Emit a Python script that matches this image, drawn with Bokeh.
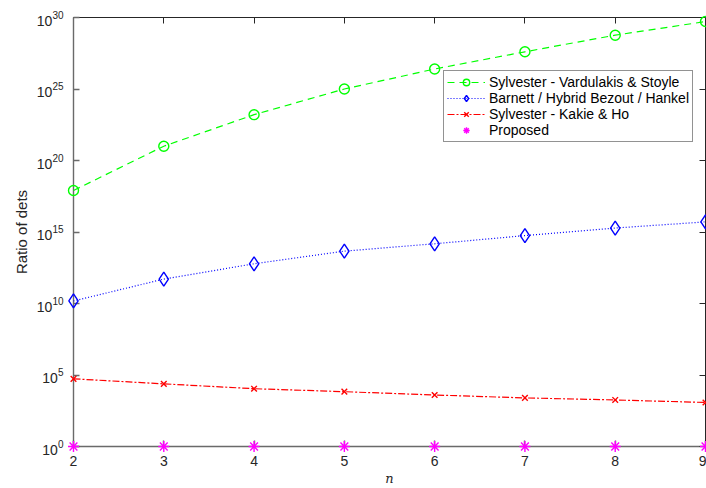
from bokeh.plotting import figure
from bokeh.models import (Range1d, FixedTicker, LogAxis, LinearAxis, Legend, LegendItem,
                          CustomJSTickFormatter, ColumnDataSource)
from bokeh.core.properties import value
from bokeh.embed import file_html
from bokeh.resources import INLINE

# ---- data ----
n_values = [2, 3, 4, 5, 6, 7, 8, 9]
vardulakis_stoyle = [8.0e17, 1.0e21, 1.6e23, 1.0e25, 2.5e26, 4.0e27, 5.8e28, 5.2e29]
barnett_bezout_hankel = [1.5e10, 5.1e11, 6.0e12, 4.6e13, 1.5e14, 5.6e14, 1.9e15, 5.1e15]
kakie_ho = [5.4e4, 2.4e4, 1.1e4, 6.8e3, 4.0e3, 2.5e3, 1.8e3, 1.2e3]
proposed = [1, 1, 1, 1, 1, 1, 1, 1]

series_names = ["Sylvester - Vardulakis & Stoyle",
                "Barnett / Hybrid Bezout / Hankel",
                "Sylvester - Kakie & Ho",
                "Proposed"]

x_ticks = [2, 3, 4, 5, 6, 7, 8, 9]
y_ticks = [1, 1e5, 1e10, 1e15, 1e20, 1e25, 1e30]
y_tick_bases = ["10", "10", "10", "10", "10", "10", "10"]
y_tick_exponents = ["0", "5", "10", "15", "20", "25", "30"]

FONT = "Liberation Sans"
TXT = "#262626"
AX_LB = "#6a6a6a"
AX_TR = "#262626"

p = figure(width=706, height=488, output_backend="svg", toolbar_location=None,
           y_axis_type="log", x_range=Range1d(2, 9), y_range=Range1d(1, 1e30),
           min_border_left=73, min_border_right=1, min_border_top=17, min_border_bottom=39)
p.background_fill_color = "white"
p.border_fill_color = "white"
p.outline_line_color = None
p.xgrid.grid_line_color = None
p.ygrid.grid_line_color = None

blank = CustomJSTickFormatter(code="return '';")

def style_axis(ax, color, width):
    ax.axis_line_color = color
    ax.axis_line_width = width
    ax.major_tick_line_color = color
    ax.major_tick_line_width = width
    ax.major_tick_in = 6
    ax.major_tick_out = 0
    ax.minor_tick_line_color = None
    ax.major_label_text_font = FONT
    ax.major_label_text_color = TXT
    ax.major_label_text_font_size = "14px"

xa = p.xaxis[0]
xa.ticker = FixedTicker(ticks=x_ticks)
style_axis(xa, AX_LB, 1.4)
xa.major_label_standoff = 9
xa.axis_label = "n"
xa.axis_label_text_font = "DejaVu Serif"
xa.axis_label_text_font_style = "italic"
xa.axis_label_text_font_size = "13px"
xa.axis_label_text_color = TXT
xa.axis_label_standoff = 2

ya = p.yaxis[0]
ya.ticker = FixedTicker(ticks=y_ticks)
ya.formatter = blank
style_axis(ya, AX_LB, 1.4)
ya.major_label_standoff = 0
ya.axis_label = "Ratio of dets"
ya.axis_label_text_font = FONT
ya.axis_label_text_font_style = "normal"
ya.axis_label_text_font_size = "15px"
ya.axis_label_text_color = TXT
ya.axis_label_standoff = 44

top = LinearAxis(ticker=FixedTicker(ticks=x_ticks), formatter=blank)
style_axis(top, AX_TR, 1)
top.major_label_standoff = 0
p.add_layout(top, "above")
right = LogAxis(ticker=FixedTicker(ticks=y_ticks), formatter=blank)
style_axis(right, AX_TR, 1)
right.major_label_standoff = 0
p.add_layout(right, "right")

# y tick labels drawn as base + raised exponent (MATLAB style 10^k)
exp_digit_w = 5.6
lab_src = ColumnDataSource(dict(
    x=[x_ticks[0]] * len(y_ticks), y=y_ticks, base=y_tick_bases, expo=y_tick_exponents,
    base_dx=[-(10 + exp_digit_w * len(e)) for e in y_tick_exponents],
))
p.text(x="x", y="y", text="base", source=lab_src, x_offset="base_dx", y_offset=3,
       text_align="right", text_baseline="middle", text_font=value(FONT),
       text_font_size="14px", text_color=TXT, level="annotation")
p.text(x="x", y="y", text="expo", source=lab_src, x_offset=-10, y_offset=-3,
       text_align="right", text_baseline="middle", text_font=value(FONT),
       text_font_size="10px", text_color=TXT, level="annotation")

green, blue, red, magenta = "#00ff00", "#0000ff", "#ff0000", "#ff00ff"

l1 = p.line(n_values, vardulakis_stoyle, line_color=green, line_width=1.2, line_dash="7 5", level="annotation")
m1 = p.scatter(n_values, vardulakis_stoyle, marker="circle", size=10, fill_color=None,
               line_color=green, line_width=1.4, level="annotation")
l2 = p.line(n_values, barnett_bezout_hankel, line_color=blue, line_width=1.2, line_dash="1 2", level="annotation")
m2 = p.scatter(n_values, barnett_bezout_hankel, marker="diamond", size=14, fill_color=None,
               line_color=blue, line_width=1.4, level="annotation")
l3 = p.line(n_values, kakie_ho, line_color=red, line_width=1.2, line_dash="7 2 2 2", level="annotation")
m3 = p.scatter(n_values, kakie_ho, marker="x", size=8, line_color=red, line_width=1.4, level="annotation")
m4 = p.scatter(n_values, proposed, marker="asterisk", size=11, line_color=magenta,
               line_width=1.4, level="annotation")

legend = Legend(items=[
    LegendItem(label=series_names[0], renderers=[l1, m1]),
    LegendItem(label=series_names[1], renderers=[l2, m2]),
    LegendItem(label=series_names[2], renderers=[l3, m3]),
    LegendItem(label=series_names[3], renderers=[m4]),
], location=(370, 304))
legend.label_text_font = FONT
legend.label_text_font_size = "14px"
legend.label_text_color = "#000000"
legend.label_height = 16
legend.glyph_height = 16
legend.glyph_width = 38
legend.label_standoff = 4
legend.spacing = 0
legend.padding = 3
legend.margin = 0
legend.border_line_color = "#262626"
legend.border_line_width = 1
legend.background_fill_color = "white"
legend.background_fill_alpha = 1
p.add_layout(legend, "center")

open("out.html", "w").write(file_html(p, INLINE))
